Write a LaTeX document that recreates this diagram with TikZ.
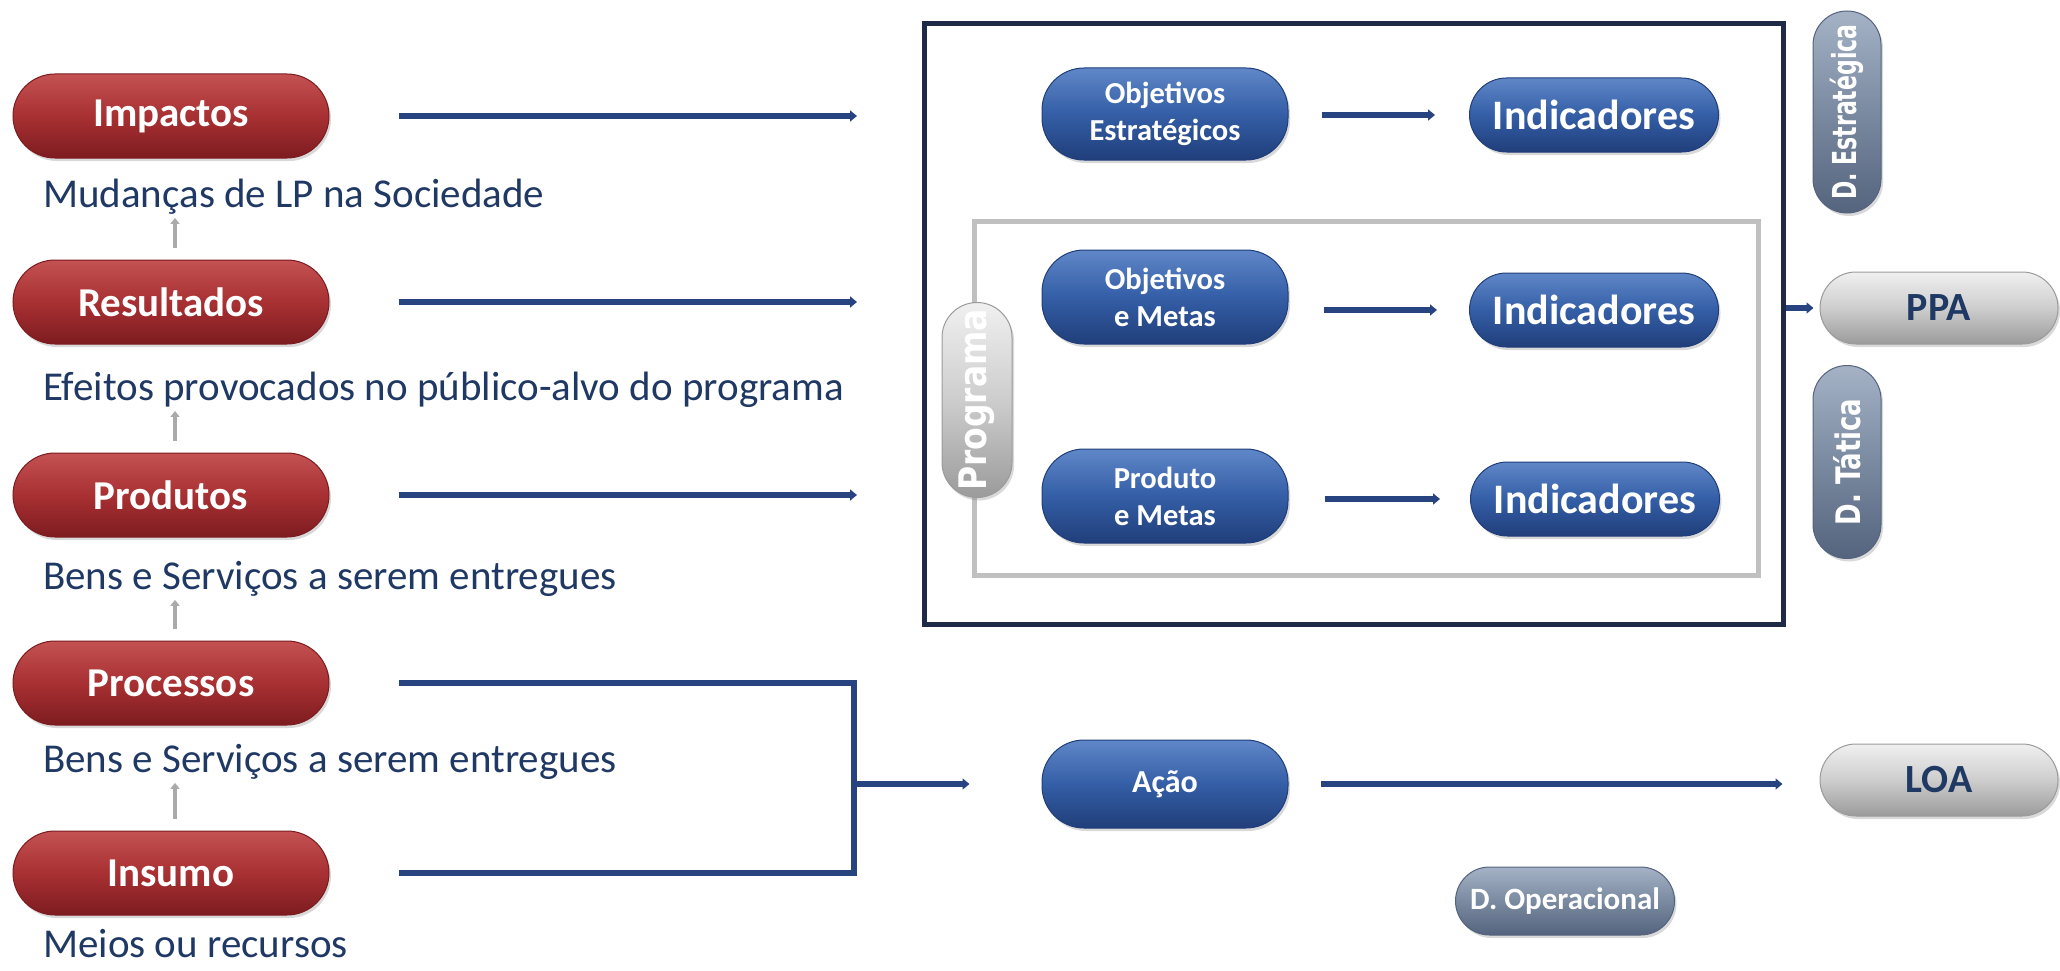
\documentclass[tikz,border=0pt]{standalone}
\usepackage{fontspec}
\setmainfont{Carlito}
\newfontfamily\dvs{DejaVu Sans}
\usetikzlibrary{arrows.meta,calc,shadows}

\definecolor{navy}{RGB}{31,56,100}
\definecolor{linecol}{RGB}{40,68,128}
\definecolor{boxcol}{RGB}{30,42,70}
\definecolor{gline}{RGB}{192,192,192}
\definecolor{redm}{RGB}{168,48,50}
\definecolor{redl}{RGB}{196,82,82}
\definecolor{redd}{RGB}{125,28,32}
\definecolor{bluem}{RGB}{52,94,166}
\definecolor{bluel}{RGB}{95,135,200}
\definecolor{blued}{RGB}{32,62,122}
\definecolor{slm}{RGB}{122,138,160}
\definecolor{sll}{RGB}{165,178,198}
\definecolor{sld}{RGB}{85,100,126}
\definecolor{gm}{RGB}{205,205,205}
\definecolor{gl}{RGB}{240,240,240}
\definecolor{gd}{RGB}{155,155,155}
\definecolor{garrow}{RGB}{170,170,170}

\tikzset{
  pill/.style={rectangle, inner sep=0pt, align=center,
    drop shadow={opacity=0.3, shadow xshift=2pt, shadow yshift=-3pt}},
  redpill/.style={pill, minimum width=316pt, minimum height=84pt, rounded corners=42pt,
    top color=redl, bottom color=redd, middle color=redm, draw=redd, line width=1pt,
    text=white, font=\fontsize{41}{46}\selectfont\bfseries},
  bluepill/.style={pill, minimum width=246pt,
    top color=bluel, bottom color=blued, middle color=bluem, draw=blued, line width=1pt,
    text=white, font=\fontsize{30.5}{37}\selectfont\bfseries},
  indpill/.style={pill, minimum width=249pt, minimum height=74pt, rounded corners=37pt,
    top color=bluel, bottom color=blued, middle color=bluem, draw=blued, line width=1pt,
    text=white, font=\fontsize{42}{46}\selectfont\bfseries},
  graypill/.style={pill, minimum width=238pt, minimum height=72pt, rounded corners=36pt,
    top color=gl, bottom color=gd, middle color=gm, draw=gd, line width=1pt,
    text=navy, font=\fontsize{40}{44}\selectfont\bfseries},
  slatepill/.style={pill, top color=sll, bottom color=sld, middle color=slm, draw=sld,
    line width=1pt, text=white},
  desc/.style={anchor=west, inner sep=0pt, text=navy, font=\fontsize{41}{46}\selectfont},
  bl/.style={draw=linecol, line width=6pt},
  ba/.style={bl, -{Triangle[length=7pt,width=11pt]}},
  garr/.style={draw=garrow, line width=4pt, -{Triangle[length=6pt,width=9pt]}},
}

\begin{document}
\begin{tikzpicture}[x=1pt,y=-1pt]
\useasboundingbox (0,0) rectangle (2060,971);

% frames
\node[draw=boxcol, line width=5pt, minimum width=859pt, minimum height=600pt, inner sep=0pt] (box) at (1353.5,324) {};
\node[draw=gline, line width=5pt, minimum width=784pt, minimum height=354pt, inner sep=0pt] (pbox) at (1366,398) {};

% left column
\node[redpill] (imp)  at (171,116) {Impactos};
\node[redpill] (res)  at (171,302) {Resultados};
\node[redpill] (prod) at (171,495) {Produtos};
\node[redpill] (proc) at (171,683) {Processos};
\node[redpill] (ins)  at (171,873) {Insumo};

\node[desc] (mud)   at (43,197) {Mudanças de LP na Sociedade};
\node[desc] (efe)   at (43,390) {Efeitos provocados no público-alvo do programa};
\node[desc] (bens1) at (43,579) {Bens e Serviços a serem entregues};
\node[desc] (bens2) at (43,762) {Bens e Serviços a serem entregues};
\node[desc] (meios) at (43,944) {Meios ou recursos};

\foreach \p/\t in {res/mud, prod/efe, proc/bens1, ins/bens2}
  \draw[garr] ($(\p.north)+(4,-12)$) -- ($(\p.north |- \t.south)+(4,3)$);

% right side pills
\node[bluepill, minimum height=92pt, rounded corners=42pt] (objest) at (1165,114) {Objetivos\\Estratégicos};
\node[indpill] (ind1) at (1594,115) {Indicadores};
\node[bluepill, minimum height=94pt, rounded corners=42pt] (objmet) at (1165,297) {Objetivos\\e Metas};
\node[indpill] (ind2) at (1594,310) {Indicadores};
\node[bluepill, minimum height=94pt, rounded corners=42pt] (prodmet) at (1165,496) {Produto\\e Metas};
\node[indpill] (ind3) at (1595,499) {Indicadores};
\node[bluepill, minimum height=88pt, rounded corners=42pt, font=\fontsize{32}{36}\selectfont\bfseries] (acao) at (1165,784) {Ação};

\node[graypill] (ppa) at (1939,308) {PPA};
\node[graypill] (loa) at (1939,780) {LOA};

\node[pill, rotate=90, minimum width=195pt, minimum height=70pt, rounded corners=35pt,
  top color=gl, bottom color=gd, middle color=gm, draw=gd, line width=1pt, text=white,
  font=\dvs\fontsize{33}{36}\selectfont\bfseries] (prog) at (977,400) {\scalebox{1}[1.15]{Programa}};

\node[slatepill, rotate=90, minimum width=202pt, minimum height=68pt, rounded corners=34pt,
  font=\dvs\fontsize{22}{26}\selectfont\bfseries] (dest) at (1847,112) {\scalebox{1}[1.5]{D. Estratégica}};
\node[slatepill, rotate=90, minimum width=193pt, minimum height=68pt, rounded corners=34pt,
  font=\dvs\fontsize{26}{30}\selectfont\bfseries] (dtat) at (1847,462) {\scalebox{1}[1.3]{D. Tática}};
\node[slatepill, minimum width=219pt, minimum height=68pt, rounded corners=34pt,
  font=\fontsize{31}{36}\selectfont\bfseries] (dop) at (1565,901) {D. Operacional};

% connectors left -> program
\coordinate (ax) at (857,0);
\foreach \p in {imp,res,prod}
  \draw[ba] ($(\p.east)+(69,0)$) -- (\p.east -| ax);

% inner arrows
\draw[ba] ($(ind1.west -| objest.east)+(33,0)$) -- ($(ind1.west)+(-34,0)$);
\draw[ba] ($(ind2.west -| objmet.east)+(35,0)$) -- ($(ind2.west)+(-32,0)$);
\draw[ba] ($(ind3.west -| prodmet.east)+(36,0)$) -- ($(ind3.west)+(-30,0)$);

% box -> PPA
\draw[ba] (box.east |- ppa.west) -- ($(ppa.west)+(-6,0)$);

% bracket processos/insumo -> acao
\coordinate (jx) at (854,784);
\draw[bl, line join=miter] ($(proc.east)+(69,0)$) -- (proc.east -| jx) -- (ins.east -| jx) -- ($(ins.east)+(69,0)$);
\draw[ba] (jx) -- ($(acao.west)+(-72,0)$);

% acao -> LOA
\draw[ba] ($(acao.east)+(32,0)$) -- ($(acao.east -| loa.west)+(-37,0)$);
\end{tikzpicture}
\end{document}
